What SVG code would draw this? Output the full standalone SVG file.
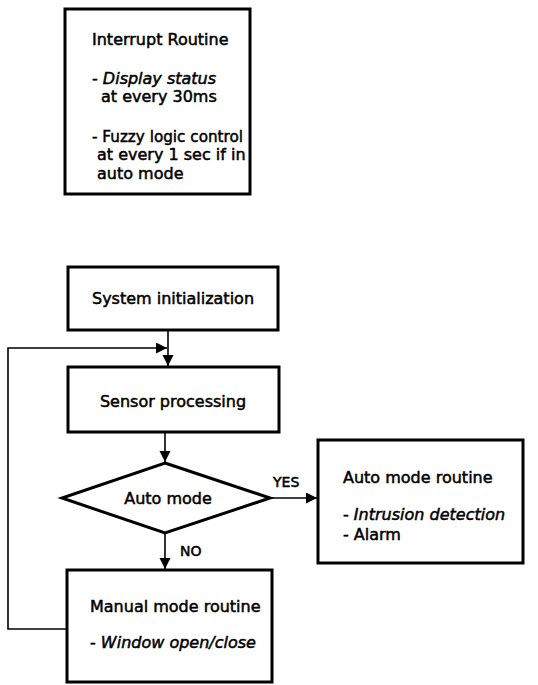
<svg xmlns="http://www.w3.org/2000/svg" width="538" height="685" viewBox="0 0 538 685">
<style>
.box{fill:#fff;stroke:#000;stroke-width:3}
.t{font-family:"DejaVu Sans",Verdana,sans-serif;font-size:16px;fill:#000;stroke:#000;stroke-width:0.5}
.i{font-style:italic}
.c{text-anchor:middle}
.con{fill:none;stroke:#000;stroke-width:1.6}
</style>
<defs>
<marker id="ah" markerWidth="13" markerHeight="13" refX="11" refY="5.5" orient="auto" markerUnits="userSpaceOnUse">
<path d="M0,0 L11,5.5 L0,11 Z" fill="#000"/>
</marker>
</defs>
<rect width="538" height="685" fill="#fff"/>
<g id="interrupt">
<rect class="box" x="65" y="9" width="185" height="185"/>
<text class="t" x="92" y="45">Interrupt Routine</text>
<text class="t" x="92" y="84">- <tspan class="i">Display status</tspan></text>
<text class="t" x="101" y="102">at every 30ms</text>
<text class="t" x="92" y="142" textLength="151" lengthAdjust="spacingAndGlyphs">- Fuzzy logic control</text>
<text class="t" x="97" y="160">at every 1 sec if in</text>
<text class="t" x="97" y="179">auto mode</text>
</g>
<g id="init">
<rect class="box" x="68" y="267" width="210" height="63"/>
<text class="t c" x="173" y="304">System initialization</text>
</g>
<g id="sensor">
<rect class="box" x="68" y="367" width="211" height="65"/>
<text class="t c" x="173" y="407">Sensor processing</text>
</g>
<g id="decision">
<polygon class="box" points="165,463 270,498 165,533 62,498"/>
<text class="t c" x="168" y="504">Auto mode</text>
</g>
<g id="auto">
<rect class="box" x="318" y="440" width="205" height="123"/>
<text class="t" x="343" y="483">Auto mode routine</text>
<text class="t" x="343" y="520">- <tspan class="i">Intrusion detection</tspan></text>
<text class="t" x="343" y="540">- Alarm</text>
</g>
<g id="manual">
<rect class="box" x="67" y="570" width="205" height="112"/>
<text class="t" x="90" y="612">Manual mode routine</text>
<text class="t" x="90" y="648">- <tspan class="i">Window open/close</tspan></text>
</g>
<g id="connectors">
<line class="con" x1="168" y1="330" x2="168" y2="366" marker-end="url(#ah)"/>
<polyline class="con" points="67,629 8,629 8,348 167,348" marker-end="url(#ah)"/>
<line class="con" x1="165" y1="432" x2="165" y2="462" marker-end="url(#ah)"/>
<line class="con" x1="271" y1="498" x2="317" y2="498" marker-end="url(#ah)"/>
<line class="con" x1="165" y1="534" x2="165" y2="569" marker-end="url(#ah)"/>
<text class="t" x="273" y="487" style="font-size:14px">YES</text>
<text class="t" x="180" y="556" style="font-size:14px">NO</text>
</g>
</svg>
